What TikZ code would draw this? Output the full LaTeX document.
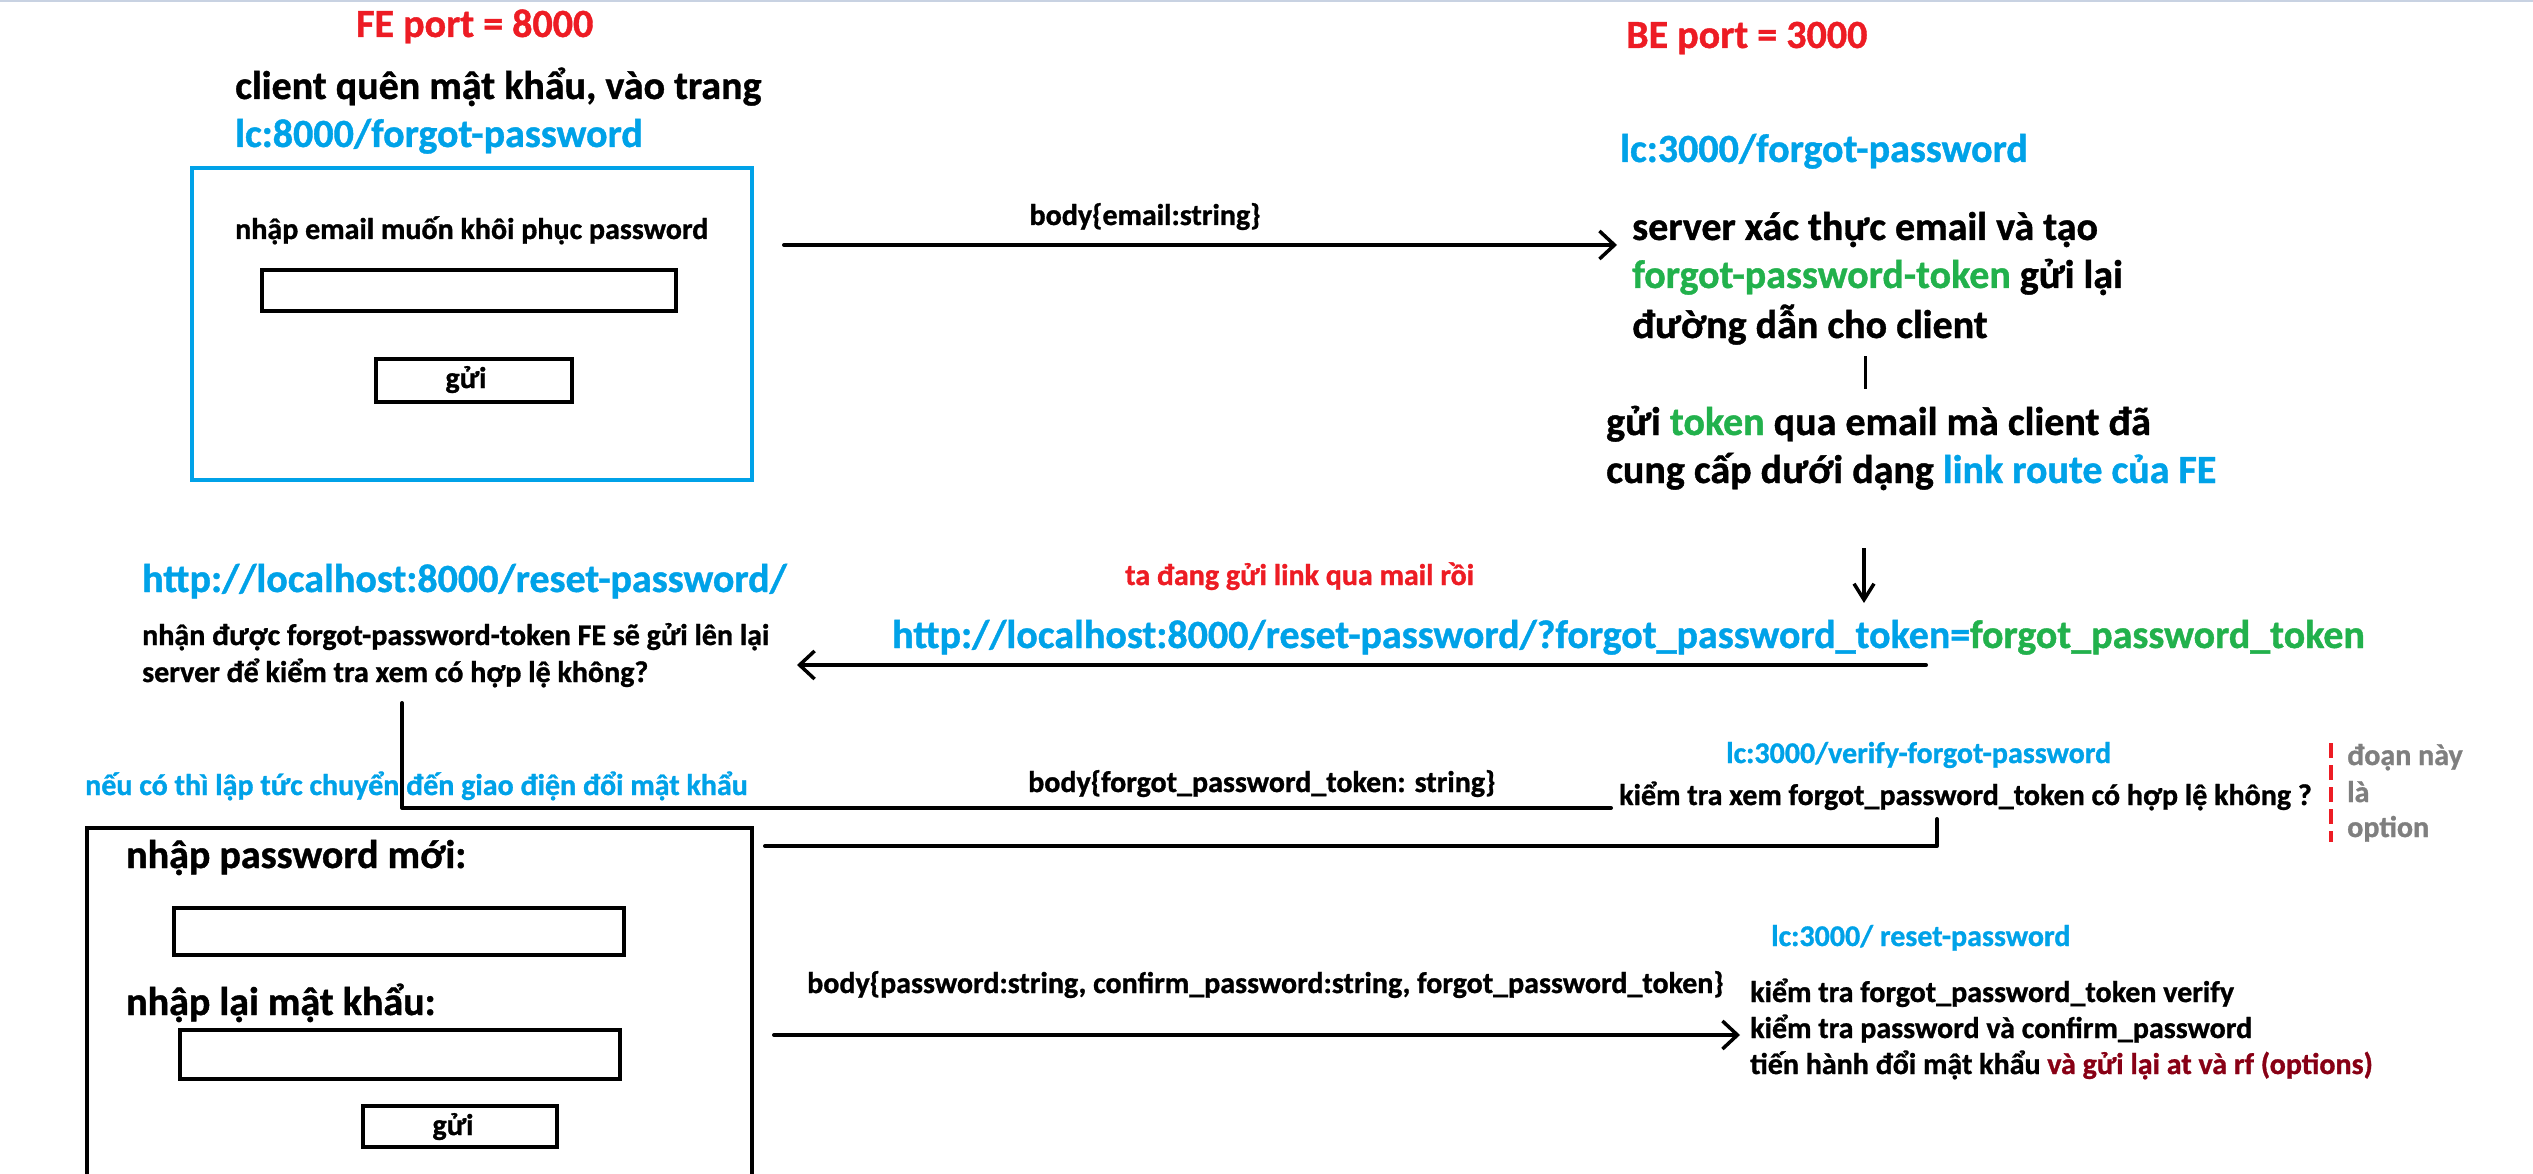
\documentclass[tikz,border=0pt]{standalone}
\usepackage{fontspec}
\setmainfont{Carlito}[BoldFeatures={FakeBold=1.0}]
\usetikzlibrary{arrows.meta}
\definecolor{pRed}{HTML}{ED1C24}
\definecolor{pBlue}{HTML}{00A2E8}
\definecolor{pGreen}{HTML}{22B14C}
\definecolor{pDark}{HTML}{880015}
\definecolor{pGray}{HTML}{7F7F7F}
\definecolor{pTop}{HTML}{C8D2E2}
\begin{document}
\begin{tikzpicture}[x=1pt,y=-1pt,
  bigtxt/.style={font=\fontsize{40}{48}\selectfont\bfseries, inner sep=0pt, anchor=base west},
  smtxt/.style={font=\fontsize{30}{36}\selectfont\bfseries, inner sep=0pt, anchor=base west},
  boxb/.style={draw, line width=4.5pt, inner sep=0pt},
  conn/.style={line width=4pt, line cap=round, line join=round},
  arr/.style={conn, -{Straight Barb[length=15pt,width=28pt,line width=3.5pt]}},
]
\useasboundingbox (0,0) rectangle (2533,1174);
\fill[white] (0,0) rectangle (2533,1174);
\draw[pTop, line width=2.5pt] (0,1) -- (2533,1);

% ---------- FE top ----------
\node[bigtxt, text=pRed] (feport) at (356,37) {FE port = 8000};
\node[bigtxt] (client) at (235,99) {client quên mật khẩu, vào trang};
\node[bigtxt, text=pBlue] (lcfe) at (235,147) {lc:8000/forgot-password};
\node[boxb, draw=pBlue, minimum width=560pt, minimum height=312pt] (form1) at (472,324) {};
\node[smtxt] (emailtxt) at (235,239) {nhập email muốn khôi phục password};
\node[boxb, minimum width=414pt, minimum height=41pt] (input1) at (469,290.5) {};
\node[boxb, minimum width=196pt, minimum height=43pt] (btn1) at (474,380.5) {};
\node[smtxt, anchor=base] (btn1txt) at (466,388) {gửi};

% ---------- arrow 1 ----------
\node[smtxt, anchor=base] (body1) at (1145,225) {body\{email:string\}};
\coordinate (a1s) at (784,245);
\coordinate (a1e) at (1617,245);
\draw[arr] (a1s) -- (a1e);

% ---------- BE top ----------
\node[bigtxt, text=pRed] (beport) at (1626,48) {BE port = 3000};
\node[bigtxt, text=pBlue] (lcbe) at (1620,162) {lc:3000/forgot-password};
\node[bigtxt] (srv1) at (1632,240) {server xác thực email và tạo};
\node[bigtxt] (srv2) at (1632,288) {{\color{pGreen}forgot-password-token} gửi lại};
\node[bigtxt] (srv3) at (1632,338) {đường dẫn cho client};
\coordinate (v1s) at (1865,356);
\coordinate (v1e) at (1865,389);
\draw[line width=3pt] (v1s) -- (v1e);
\node[bigtxt] (gui1) at (1606,435) {gửi {\color{pGreen}token} qua email mà client đã};
\node[bigtxt] (gui2) at (1606,483) {cung cấp dưới dạng {\color{pBlue}link route của FE}};
\coordinate (d1s) at (1864,548);
\coordinate (d1e) at (1864,603);
\draw[line width=3.5pt, -{Straight Barb[length=16pt,width=20pt,line width=3.5pt]}] (d1s) -- (d1e);

% ---------- reset link ----------
\node[smtxt, text=pRed] (mailtxt) at (1125,585) {ta đang gửi link qua mail rồi};
\node[bigtxt] (link) at (892,648) {{\color{pBlue}http://localhost:8000/reset-password/?forgot\_password\_token=}{\color{pGreen}forgot\_password\_token}};
\coordinate (a2s) at (1926,665);
\coordinate (a2e) at (797,665);
\draw[arr] (a2s) -- (a2e);

\node[bigtxt, text=pBlue] (resetfe) at (142,592) {http://localhost:8000/reset-password/};
\node[smtxt] (nhan1) at (142,645) {nhận được forgot-password-token FE sẽ gửi lên lại};
\node[smtxt] (nhan2) at (142,682) {server để kiểm tra xem có hợp lệ không?};

% ---------- verify ----------
\node[smtxt, text=pBlue] (neu) at (85,795) {nếu có thì lập tức chuyển đến giao điện đổi mật khẩu};
\node[smtxt] (body2) at (1028,792) {body\{forgot\_password\_token: string\}};
\coordinate (c3a) at (402,703);
\coordinate (c3b) at (402,808);
\coordinate (c3c) at (1611,808);
\draw[conn] (c3a) -- (c3b) -- (c3c);
\node[smtxt, text=pBlue] (lcverify) at (1726,763) {lc:3000/verify-forgot-password};
\node[smtxt] (kiemxem) at (1619,805) {kiểm tra xem forgot\_password\_token có hợp lệ không ?};
\coordinate (c4a) at (1937,819);
\coordinate (c4b) at (1937,846);
\coordinate (c4c) at (765,846);
\draw[conn] (c4a) -- (c4b) -- (c4c);
\coordinate (rd1) at (2331,743);
\coordinate (rd2) at (2331,842);
\draw[pRed, line width=3.5pt, dash pattern=on 15pt off 7pt] (rd1) -- (rd2);
\node[smtxt, text=pGray] (opt1) at (2347,765) {đoạn này};
\node[smtxt, text=pGray] (opt2) at (2347,802) {là};
\node[smtxt, text=pGray] (opt3) at (2347,837) {option};

% ---------- reset form ----------
\coordinate (r1) at (87,1178);
\coordinate (r2) at (87,828);
\coordinate (r3) at (752,828);
\coordinate (r4) at (752,1178);
\draw[line width=4.5pt, line join=miter] (r1) -- (r2) -- (r3) -- (r4);
\node[bigtxt] (newpw) at (126,868) {nhập password mới:};
\node[boxb, minimum width=450pt, minimum height=47pt] (input2) at (399,931.5) {};
\node[bigtxt] (again) at (126,1015) {nhập lại mật khẩu:};
\node[boxb, minimum width=440pt, minimum height=49pt] (input3) at (400,1054.5) {};
\node[boxb, minimum width=194pt, minimum height=41pt] (btn2) at (460,1126.5) {};
\node[smtxt, anchor=base] (btn2txt) at (453,1135) {gửi};

% ---------- arrow 5 ----------
\node[smtxt] (body3) at (807,993) {body\{password:string, confirm\_password:string, forgot\_password\_token\}};
\coordinate (a5s) at (774,1035);
\coordinate (a5e) at (1740,1035);
\draw[arr] (a5s) -- (a5e);
\node[smtxt, text=pBlue] (lcreset) at (1771,946) {lc:3000/ reset-password};
\node[smtxt] (k1) at (1750,1002) {kiểm tra forgot\_password\_token verify};
\node[smtxt] (k2) at (1750,1038) {kiểm tra password và confirm\_password};
\node[smtxt] (k3) at (1750,1074) {tiến hành đổi mật khẩu {\color{pDark}và gửi lại at và rf (options)}};
\end{tikzpicture}
\end{document}
